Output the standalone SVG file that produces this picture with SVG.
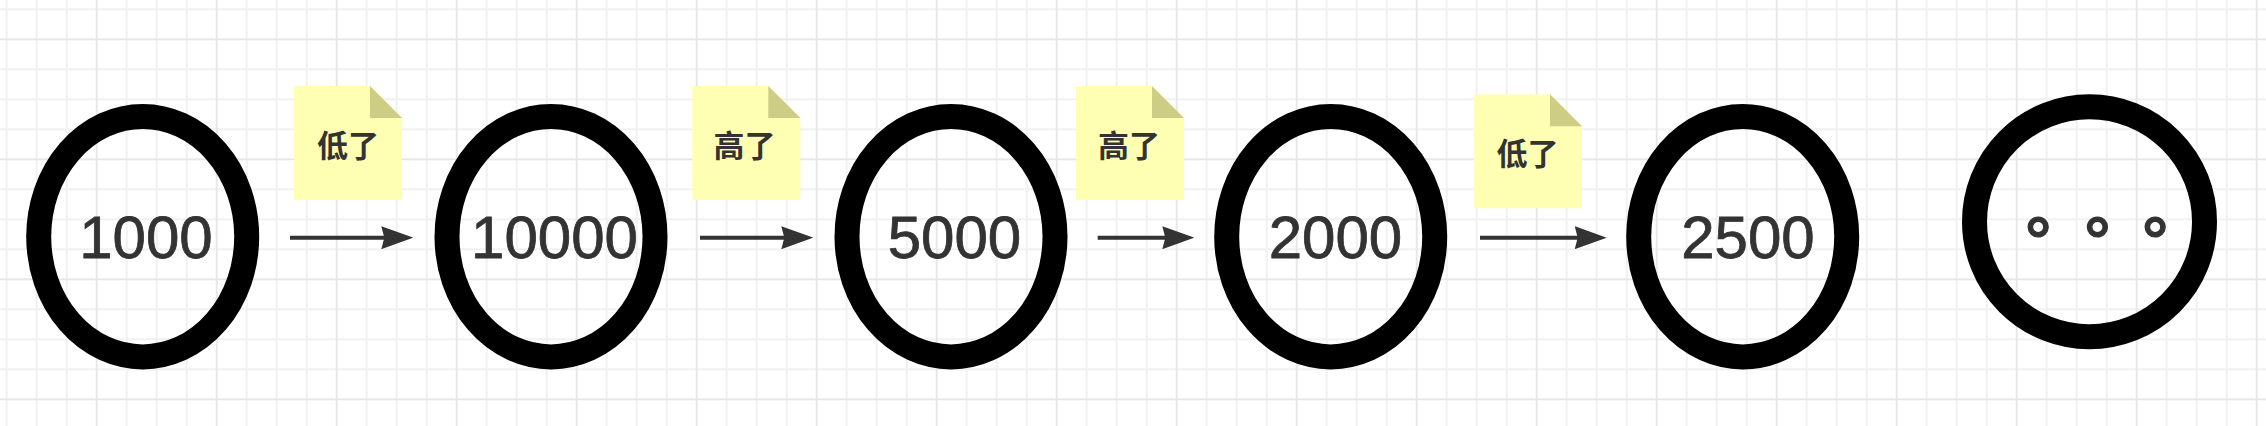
<svg xmlns="http://www.w3.org/2000/svg" width="2266" height="426" viewBox="0 0 2266 426">
  <defs>
    <pattern id="grid" patternUnits="userSpaceOnUse" x="95.7" y="38.3" width="120" height="120">
      <path d="M31 0V120M61 0V120M91 0V120M0 31H120M0 61H120M0 91H120" stroke="#f1f1f1" stroke-width="2" fill="none"/>
      <path d="M1 0V120M0 1H120" stroke="#e7e7e7" stroke-width="2" fill="none"/>
    </pattern>
    <marker id="arrow" viewBox="0 0 32 23" refX="6" refY="11.5" markerWidth="32" markerHeight="23" markerUnits="userSpaceOnUse" orient="auto">
      <path d="M0,0 L32,11.5 L0,23 L3,11.5 Z" fill="#333333"/>
    </marker>
  </defs>
  <style>
    .ring { fill: none; stroke: #000000; stroke-width: 25px; }
    .num { font-family: "Liberation Sans", Arial, sans-serif; font-size: 60px; fill: #333333; stroke: #333333; stroke-width: 0.8px; text-anchor: middle; }
    .note { fill: #ffffb3; }
    .fold { fill: #cdcd86; }
    .lbl { font-family: "Noto Sans CJK SC", "Noto Sans CJK TC", sans-serif; font-size: 31px; font-weight: bold; fill: #333333; text-anchor: middle; }
    .dots { font-family: "Noto Sans CJK TC", "Noto Sans CJK SC", sans-serif; font-size: 62px; font-weight: bold; fill: #333333; stroke: #333333; stroke-width: 1.2px; text-anchor: middle; }
    .edge { stroke: #333333; stroke-width: 4px; fill: none; marker-end: url(#arrow); }
  </style>
  <rect width="2266" height="426" fill="#ffffff"/>
  <rect width="2266" height="426" fill="url(#grid)"/>

  <g id="node-1000">
    <ellipse class="ring" cx="142.7" cy="236.7" rx="104" ry="120.2"/>
    <text class="num" x="146" y="258">1000</text>
  </g>
  <g id="node-10000">
    <ellipse class="ring" cx="551" cy="236.7" rx="104" ry="120.2"/>
    <text class="num" x="554.5" y="258">10000</text>
  </g>
  <g id="node-5000">
    <ellipse class="ring" cx="951" cy="236.7" rx="104" ry="120.2"/>
    <text class="num" x="954.5" y="258">5000</text>
  </g>
  <g id="node-2000">
    <ellipse class="ring" cx="1330.7" cy="236.7" rx="104" ry="120.2"/>
    <text class="num" x="1335.5" y="258">2000</text>
  </g>
  <g id="node-2500">
    <ellipse class="ring" cx="1742.7" cy="236.7" rx="104" ry="120.2"/>
    <text class="num" x="1748" y="258">2500</text>
  </g>
  <g id="node-more">
    <circle class="ring" cx="2089.5" cy="221.8" r="115"/>
    <text class="dots" x="2038 2097.3 2155" y="251">。。。</text>
  </g>

  <g id="note-1">
    <path class="note" d="M294 86H370L402 118V200H294Z"/>
    <path class="fold" d="M370 86V118H402Z"/>
    <text class="lbl" x="348" y="156.5">低了</text>
  </g>
  <g id="note-2">
    <path class="note" d="M692.3 86H768.3L800.3 118V200H692.3Z"/>
    <path class="fold" d="M768.3 86V118H800.3Z"/>
    <text class="lbl" x="744.5" y="156.5">高了</text>
  </g>
  <g id="note-3">
    <path class="note" d="M1076 86H1152L1184 118V200H1076Z"/>
    <path class="fold" d="M1152 86V118H1184Z"/>
    <text class="lbl" x="1129" y="156.5">高了</text>
  </g>
  <g id="note-4">
    <path class="note" d="M1474 94.3H1550L1582 126.3V208.3H1474Z"/>
    <path class="fold" d="M1550 94.3V126.3H1582Z"/>
    <text class="lbl" x="1527.5" y="164.8">低了</text>
  </g>

  <g id="connectors">
    <line class="edge" x1="290" y1="237.7" x2="387.3" y2="237.7"/>
    <line class="edge" x1="700" y1="237.7" x2="787.3" y2="237.7"/>
    <line class="edge" x1="1097.7" y1="237.7" x2="1168.3" y2="237.7"/>
    <line class="edge" x1="1480" y1="237.7" x2="1580.7" y2="237.7"/>
  </g>
</svg>
